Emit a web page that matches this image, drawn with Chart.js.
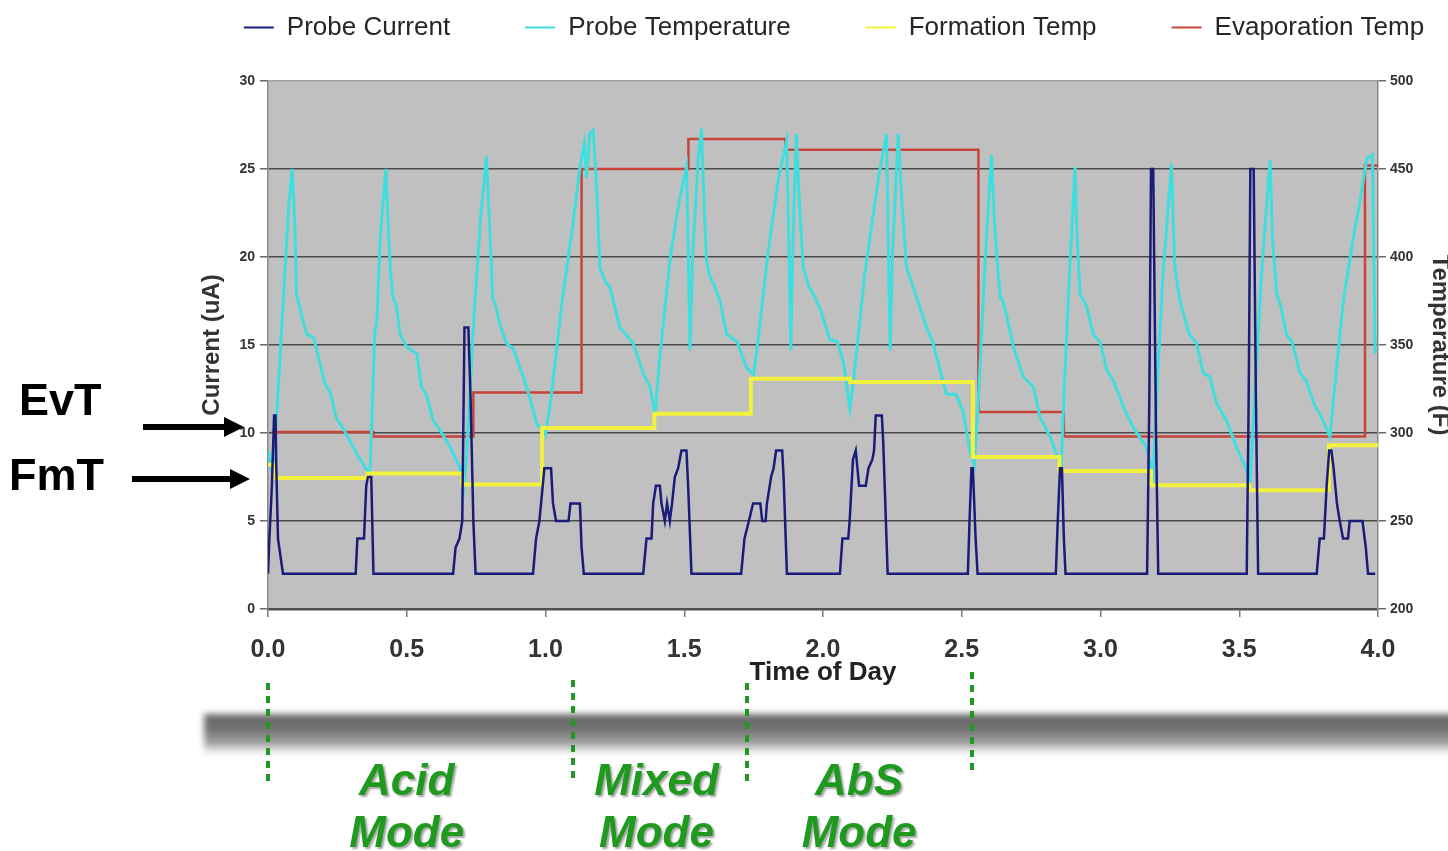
<!DOCTYPE html>
<html>
<head>
<meta charset="utf-8">
<script src="https://cdn.jsdelivr.net/npm/chart.js@4.4.0/dist/chart.umd.min.js"></script>
<style>
  html, body { margin: 0; padding: 0; background: #fff; }
</style>
</head>
<body>
<canvas id="probeChart" width="1448" height="851"></canvas>
<script>
const FONT = '"Liberation Sans", Arial, sans-serif';

const seriesNames = ['Probe Current', 'Probe Temperature', 'Formation Temp', 'Evaporation Temp'];
const seriesColors = ['#1b1b7a', '#3fdede', '#f2f23c', '#c8433a'];

const timeTicks = [0, 0.5, 1, 1.5, 2, 2.5, 3, 3.5, 4];
const currentTicks = [0, 5, 10, 15, 20, 25, 30];
const tempTicks = [200, 250, 300, 350, 400, 450, 500];

// probe current (uA)
const currentTime = [
  0, 0.005, 0.014, 0.022, 0.027, 0.03, 0.036, 0.054,
  0.316, 0.322, 0.346, 0.354, 0.36, 0.372, 0.38,
  0.667, 0.676, 0.69, 0.7, 0.708, 0.722, 0.73, 0.74, 0.748,
  0.955, 0.966, 0.978, 0.996, 1.02, 1.027, 1.038, 1.083, 1.09, 1.124, 1.13, 1.138,
  1.352, 1.364, 1.382, 1.388, 1.398, 1.412, 1.418, 1.43, 1.438, 1.448, 1.456, 1.466, 1.478, 1.49, 1.508, 1.514, 1.526,
  1.705, 1.717, 1.733, 1.748, 1.774, 1.781, 1.793, 1.798, 1.813, 1.822, 1.831, 1.853, 1.858, 1.87,
  2.061, 2.07, 2.091, 2.096, 2.108, 2.118, 2.124, 2.13, 2.154, 2.164, 2.178, 2.184, 2.19, 2.212, 2.217, 2.233,
  2.522, 2.528, 2.535, 2.54, 2.55, 2.557,
  2.839, 2.846, 2.854, 2.861, 2.868, 2.874,
  3.168, 3.176, 3.182, 3.19, 3.2, 3.208,
  3.527, 3.534, 3.54, 3.552, 3.56, 3.568,
  3.779, 3.79, 3.805, 3.815, 3.824, 3.832, 3.84, 3.852, 3.862, 3.874, 3.892, 3.898, 3.944, 3.956, 3.964, 3.99
];
const currentUA = [
  2, 4, 7, 11, 11, 8, 4, 2,
  2, 4, 4, 7, 7.5, 7.5, 2,
  2, 3.5, 4, 5, 16, 16, 12, 5, 2,
  2, 4, 5, 8, 8, 6, 5, 5, 6, 6, 3.5, 2,
  2, 4, 4, 6, 7, 7, 6, 5, 6, 5, 6, 7.5, 8, 9, 9, 7, 2,
  2, 4, 5, 6, 6, 5, 5, 6, 7.5, 8, 9, 9, 7.5, 2,
  2, 4, 4, 5, 8.5, 9, 8, 7, 7, 8, 8.5, 9, 11, 11, 9.5, 2,
  2, 5, 8, 8, 4, 2,
  2, 5, 8, 8, 4, 2,
  2, 12, 25, 25, 10, 2,
  2, 12, 25, 25, 12, 2,
  2, 4, 4, 7, 9, 9, 8, 6, 5, 4, 4, 5, 5, 3.5, 2, 2
];

// probe temperature (F), cyan saw-tooth
const probeTime = [
  0, 0.012, 0.02, 0.035, 0.055, 0.075, 0.087, 0.096, 0.103, 0.112, 0.125, 0.14, 0.165, 0.185, 0.205, 0.225, 0.245, 0.28, 0.32, 0.36,
  0.368, 0.385, 0.392, 0.405, 0.425, 0.435, 0.442, 0.452, 0.462, 0.476, 0.5, 0.536, 0.553, 0.57, 0.596, 0.626, 0.656, 0.69, 0.705,
  0.715, 0.74, 0.765, 0.787, 0.8, 0.81, 0.818, 0.835, 0.859, 0.883, 0.92, 0.944, 0.968, 0.99, 1.0,
  1.02, 1.06, 1.1, 1.124, 1.14, 1.148, 1.16, 1.172, 1.184, 1.196, 1.215, 1.232, 1.268, 1.29, 1.316, 1.352, 1.377, 1.395,
  1.41, 1.45, 1.48, 1.508, 1.515, 1.521, 1.53, 1.55, 1.562, 1.572, 1.58, 1.59, 1.605, 1.629, 1.653, 1.69, 1.725, 1.75,
  1.76, 1.8, 1.84, 1.869, 1.878, 1.884, 1.892, 1.904, 1.915, 1.929, 1.95, 1.965, 1.989, 2.025, 2.05, 2.073, 2.097,
  2.11, 2.15, 2.2, 2.229, 2.236, 2.242, 2.25, 2.271, 2.285, 2.301, 2.325, 2.35, 2.373, 2.397, 2.42, 2.445, 2.48, 2.505, 2.529, 2.545,
  2.56, 2.585, 2.607, 2.618, 2.625, 2.638, 2.646, 2.66, 2.686, 2.722, 2.758, 2.782, 2.818, 2.842, 2.858,
  2.868, 2.885, 2.908, 2.916, 2.926, 2.95, 2.974, 2.998, 3.022, 3.046, 3.082, 3.118, 3.166, 3.19,
  3.205, 3.225, 3.256, 3.262, 3.268, 3.286, 3.32, 3.346, 3.37, 3.394, 3.418, 3.454, 3.49, 3.526, 3.54,
  3.555, 3.58, 3.611, 3.62, 3.635, 3.65, 3.67, 3.69, 3.719, 3.74, 3.766, 3.802, 3.827,
  3.84, 3.875, 3.91, 3.935, 3.96, 3.98, 3.99
];
const probeTemp = [
  290, 280, 284, 320, 375, 430, 450, 420, 378, 373, 364, 356, 354, 341, 328, 323, 309, 300, 288, 278,
  279, 358, 362, 413, 450, 410, 390, 376, 373, 356, 349, 345, 326, 322, 307, 300, 292, 281, 268,
  285, 360, 420, 457, 413, 376, 374, 362, 351, 348, 332, 320, 305, 302, 299,
  320, 375, 420, 451, 465, 445, 470, 472, 440, 394, 386, 383, 360, 356, 351, 334, 326, 310,
  340, 400, 430, 451, 400, 347, 400, 455, 473, 430, 398, 390, 385, 375, 356, 352, 337, 333,
  345, 400, 445, 466, 400, 347, 410, 470, 430, 394, 383, 379, 371, 353, 352, 341, 314,
  330, 390, 445, 470, 400, 347, 400, 470, 430, 394, 383, 371, 360, 351, 337, 322, 322, 312, 290, 282,
  320, 400, 458, 420, 404, 377, 376, 368, 349, 332, 326, 309, 298, 288, 279,
  320, 380, 451, 410, 379, 372, 356, 352, 336, 330, 315, 303, 292, 276,
  330, 390, 453, 420, 394, 375, 356, 351, 334, 332, 317, 307, 292, 279, 273,
  320, 390, 455, 410, 379, 372, 356, 352, 334, 330, 318, 307, 298,
  320, 375, 410, 432, 456, 458, 345
];

// set points, each value holds until the next time
const formationTime = [0, 0.022, 0.358, 0.7, 0.988, 1.392, 1.74, 2.098, 2.54, 2.852, 3.182, 3.537, 3.823, 4.0];
const formationTemp = [282, 274.5, 277, 270.7, 302.8, 311, 330.8, 329, 286.4, 278.4, 270.3, 267.5, 293, 293];
const evapTime = [0.013, 0.38, 0.74, 1.13, 1.515, 1.865, 2.56, 2.868, 3.953, 4.0];
const evapTemp = [300.5, 298, 323, 450, 467, 461, 312, 298, 452, 452];

const modeNames = [['Acid', 'Mode'], ['Mixed', 'Mode'], ['AbS', 'Mode']];
const modeBounds = [0, 1.1, 1.727, 2.537];
const modeLabelAt = [0.5, 1.4, 2.13];

const toPoints = (xs, ys) => xs.map((x, i) => ({ x, y: ys[i] }));

const plotBackground = {
  id: 'plotBackground',
  beforeDraw(chart) {
    const { ctx, chartArea: { left, top, right, bottom } } = chart;
    ctx.save();
    ctx.fillStyle = '#c0c0c0';
    ctx.fillRect(left, top, right - left, bottom - top);
    ctx.restore();
  }
};

// the legend in the picture sits a bit right of centre
const legendShift = {
  id: 'legendShift',
  afterLayout(chart) {
    chart.legend.left += 11;
    chart.legend.right += 11;
  }
};

function arrow(ctx, x0, tip, y) {
  ctx.fillRect(x0, y - 3, tip - x0 - 16, 6);
  ctx.beginPath();
  ctx.moveTo(tip, y);
  ctx.lineTo(tip - 20, y - 10);
  ctx.lineTo(tip - 20, y + 10);
  ctx.closePath();
  ctx.fill();
}

const annotations = {
  id: 'annotations',
  afterDraw(chart) {
    const { ctx, scales: { x } } = chart;
    ctx.save();

    // grey shadow band below the chart
    ctx.filter = 'blur(3px)';
    const band = ctx.createLinearGradient(0, 713, 0, 758);
    band.addColorStop(0, '#686868');
    band.addColorStop(0.35, '#707070');
    band.addColorStop(0.7, '#a8a8a8');
    band.addColorStop(1, 'rgba(255,255,255,0)');
    ctx.fillStyle = band;
    ctx.fillRect(204, 714, 1270, 44);
    ctx.filter = 'none';

    // mode boundaries
    const boundTop = [683, 680, 683, 672];
    ctx.strokeStyle = '#1f9a1f';
    ctx.lineWidth = 4;
    ctx.setLineDash([7, 6]);
    modeBounds.forEach((t, i) => {
      const px = Math.round(x.getPixelForValue(t));
      ctx.beginPath();
      ctx.moveTo(px, boundTop[i]);
      ctx.lineTo(px, boundTop[i] + 100);
      ctx.stroke();
    });
    ctx.setLineDash([]);

    ctx.font = 'italic bold 44px ' + FONT;
    ctx.textAlign = 'center';
    ctx.textBaseline = 'middle';
    ctx.shadowColor = 'rgba(0,0,0,0.35)';
    ctx.shadowOffsetX = 2;
    ctx.shadowOffsetY = 2;
    ctx.shadowBlur = 2;
    ctx.fillStyle = '#1f9a1f';
    modeNames.forEach((lines, i) => {
      const px = x.getPixelForValue(modeLabelAt[i]);
      lines.forEach((s, j) => ctx.fillText(s, px, 783 + j * 52));
    });

    ctx.shadowColor = 'transparent';
    ctx.fillStyle = '#000';
    ctx.font = 'bold 45px ' + FONT;
    ctx.textAlign = 'left';
    ctx.fillText('EvT', 19, 403);
    ctx.fillText('FmT', 9, 478);
    arrow(ctx, 143, 244, 427);
    arrow(ctx, 132, 250, 479);
    ctx.restore();
  }
};

new Chart(document.getElementById('probeChart'), {
  type: 'line',
  data: {
    datasets: [
      { label: seriesNames[0], data: toPoints(currentTime, currentUA), yAxisID: 'y',
        borderColor: seriesColors[0], backgroundColor: seriesColors[0], borderWidth: 2.5, order: 0 },
      { label: seriesNames[1], data: toPoints(probeTime, probeTemp), yAxisID: 'y1',
        borderColor: seriesColors[1], backgroundColor: seriesColors[1], borderWidth: 3, order: 2 },
      { label: seriesNames[2], data: toPoints(formationTime, formationTemp), yAxisID: 'y1', stepped: true,
        borderColor: seriesColors[2], backgroundColor: seriesColors[2], borderWidth: 4, order: 1 },
      { label: seriesNames[3], data: toPoints(evapTime, evapTemp), yAxisID: 'y1', stepped: true,
        borderColor: seriesColors[3], backgroundColor: seriesColors[3], borderWidth: 2.5, order: 3 }
    ]
  },
  plugins: [plotBackground, legendShift, annotations],
  options: {
    responsive: false,
    animation: false,
    devicePixelRatio: 1,
    events: [],
    elements: { point: { radius: 0 }, line: { tension: 0 } },
    layout: { padding: { left: 198, right: 0, top: 4.5, bottom: 162 } },
    plugins: {
      tooltip: { enabled: false },
      title: { display: true, text: '', weight: 500, padding: { top: 29.5, bottom: 0 }, font: { size: 1, lineHeight: 1 } },
      legend: {
        position: 'top',
        labels: {
          boxWidth: 30,
          boxHeight: 2,
          padding: 10,
          color: '#262626',
          font: { family: FONT, size: 26 },
          sort: (a, b) => a.datasetIndex - b.datasetIndex,
          generateLabels(chart) {
            const items = Chart.defaults.plugins.legend.labels.generateLabels(chart);
            items.forEach(item => {
              item.fillStyle = seriesColors[item.datasetIndex];
              item.lineWidth = 0;
              if (item.datasetIndex < seriesNames.length - 1) item.text += '\u00a0'.repeat(9);
            });
            return items;
          }
        }
      }
    },
    scales: {
      x: {
        type: 'linear',
        min: 0,
        max: 4,
        afterBuildTicks: axis => { axis.ticks = timeTicks.map(value => ({ value })); },
        afterFit: axis => { axis.height = 80; },
        grid: { drawOnChartArea: false, tickLength: 8, color: '#7a7a7a', lineWidth: 1.5 },
        border: { color: '#505050', width: 2.5 },
        ticks: {
          padding: 18, color: '#333', autoSkip: false, maxRotation: 0,
          font: { family: FONT, size: 25, weight: 'bold' },
          callback: v => v.toFixed(1)
        },
        title: {
          display: true, text: 'Time of Day', color: '#222',
          font: { family: FONT, size: 26, weight: 'bold' },
          padding: { top: 0, bottom: 1 }
        }
      },
      y: {
        position: 'left',
        min: 0,
        max: 30,
        afterBuildTicks: axis => { axis.ticks = currentTicks.map(value => ({ value })); },
        afterFit: axis => { axis.width = 70; },
        grid: {
          color: c => (c.tick && c.tick.value === 30 ? '#a3a3a3' : '#4a4a4a'),
          tickColor: '#6a6a6a',
          lineWidth: 1.5,
          tickLength: 8
        },
        border: { color: '#8a8a8a', width: 1.5 },
        ticks: { padding: 5, color: '#333', font: { family: FONT, size: 14, weight: 'bold' } },
        title: {
          display: true, text: 'Current (uA)', color: '#333',
          font: { family: FONT, size: 24, weight: 'bold' },
          padding: 0
        }
      },
      y1: {
        position: 'right',
        min: 200,
        max: 500,
        afterBuildTicks: axis => { axis.ticks = tempTicks.map(value => ({ value })); },
        afterFit: axis => { axis.width = 70; },
        grid: { drawOnChartArea: false, tickLength: 8, color: '#6a6a6a', lineWidth: 1.5 },
        border: { color: '#8a8a8a', width: 1.5 },
        ticks: { padding: 4, color: '#333', font: { family: FONT, size: 14, weight: 'bold' } },
        title: {
          display: true, text: 'Temperature (F)', color: '#333',
          font: { family: FONT, size: 24, weight: 'bold', lineHeight: 1 },
          padding: { top: -4 }
        }
      }
    }
  }
});
</script>
</body>
</html>
